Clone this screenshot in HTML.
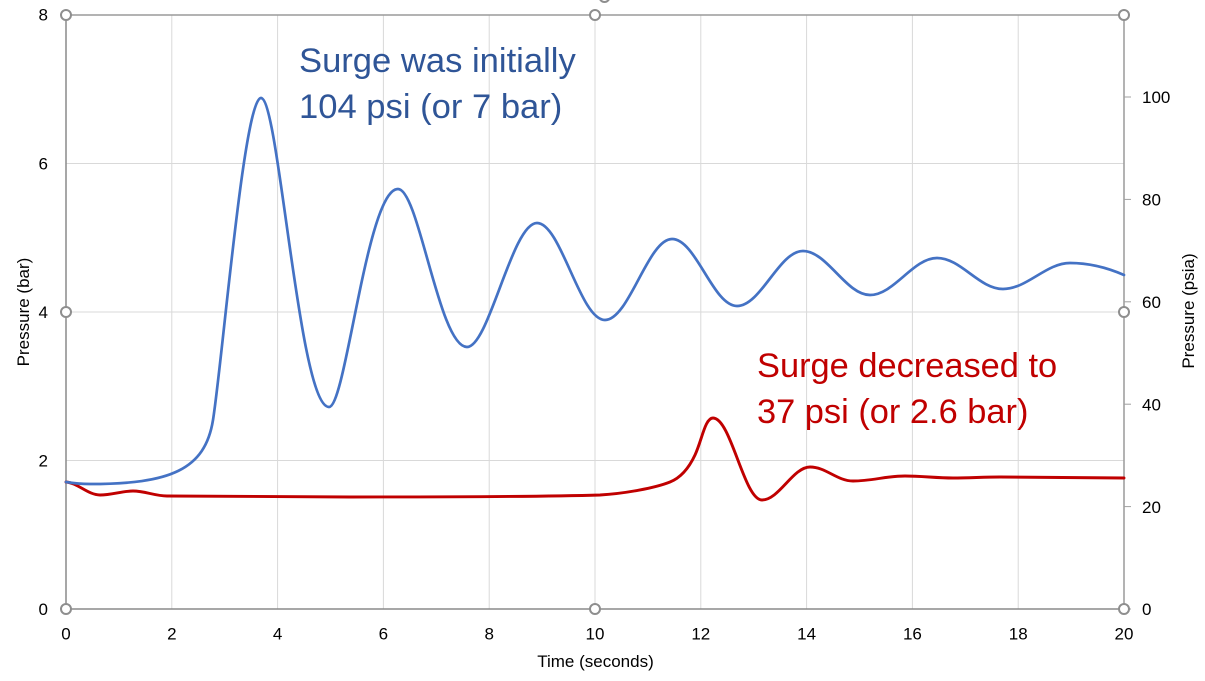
<!DOCTYPE html>
<html>
<head>
<meta charset="utf-8">
<style>
html,body{margin:0;padding:0;background:#fff;}
svg{display:block;}
text{font-family:"Liberation Sans",Arial,sans-serif;}
</style>
</head>
<body>
<svg width="1205" height="681" viewBox="0 0 1205 681" xmlns="http://www.w3.org/2000/svg">
<rect x="0" y="0" width="1205" height="681" fill="#fff"/>
<!-- gridlines -->
<g stroke="#d9d9d9" stroke-width="1">
<line x1="171.8" y1="15" x2="171.8" y2="609"/>
<line x1="277.6" y1="15" x2="277.6" y2="609"/>
<line x1="383.4" y1="15" x2="383.4" y2="609"/>
<line x1="489.2" y1="15" x2="489.2" y2="609"/>
<line x1="595" y1="15" x2="595" y2="609"/>
<line x1="700.8" y1="15" x2="700.8" y2="609"/>
<line x1="806.6" y1="15" x2="806.6" y2="609"/>
<line x1="912.4" y1="15" x2="912.4" y2="609"/>
<line x1="1018.2" y1="15" x2="1018.2" y2="609"/>
<line x1="66" y1="163.5" x2="1124" y2="163.5"/>
<line x1="66" y1="312" x2="1124" y2="312"/>
<line x1="66" y1="460.5" x2="1124" y2="460.5"/>
</g>
<!-- axes / frame -->
<g stroke="#9a9a9a" stroke-width="1.5" fill="none">
<line x1="66" y1="15" x2="1124" y2="15"/>
<line x1="1124" y1="15" x2="1124" y2="609"/>
</g>
<g stroke="#8a8a8a" stroke-width="1.5">
<line x1="66" y1="15" x2="66" y2="609"/>
<line x1="66" y1="609" x2="1124" y2="609"/>
</g>
<!-- right axis ticks -->
<g stroke="#a0a0a0" stroke-width="1">
<line x1="1124" y1="609" x2="1131" y2="609"/>
<line x1="1124" y1="506.6" x2="1131" y2="506.6"/>
<line x1="1124" y1="404.2" x2="1131" y2="404.2"/>
<line x1="1124" y1="301.8" x2="1131" y2="301.8"/>
<line x1="1124" y1="199.4" x2="1131" y2="199.4"/>
<line x1="1124" y1="97" x2="1131" y2="97"/>
</g>

<!-- series -->
<path fill="none" stroke="#c00000" stroke-width="2.9" stroke-linejoin="round" stroke-linecap="round"
d="M66,482 C78,483 88,495 100,495 C112,495 122,491 133,491 C145,491 155,496 167,496 C250,496 300,497 350,497 C450,497 550,496.5 600,495 C625,493.5 655,488 670,482 C680,478 688,470 695,455 C702,440 705,418 713,418 C731,418 744,500 762,500 C779,500 793,467 810,467 C826,467 837,481 853,481 C872,481 886,476 905,476 C922,476 936,478 953,478 C970,478 983,477 1000,477 C1040,477 1080,478 1124,478"/>
<path fill="none" stroke="#4472c4" stroke-width="2.7" stroke-linejoin="round" stroke-linecap="round"
d="M66,482 C75,483.5 80,484 90,484 C170,484 205,470 213,420 C222.6,360 244,98 261,98 C279,98 299,407 329,407 C346,407 367,189 398,189 C419,189 439,347 467,347 C489,347 512,223 537,223 C561,223 580,320 605,320 C629,320 648,239 672,239 C696,239 713,306 737,306 C761,306 779,251 803,251 C827,251 846,295 870,295 C894,295 913,258 937,258 C961,258 979,289 1003,289 C1027,289 1046,263 1070,263 C1090,263 1108,268 1124,275"/>

<!-- handles -->
<g fill="#fff" stroke="#8e8e8e" stroke-width="2">
<circle cx="66" cy="15" r="5"/>
<circle cx="595" cy="15" r="5"/>
<circle cx="1124" cy="15" r="5"/>
<circle cx="66" cy="312" r="5"/>
<circle cx="1124" cy="312" r="5"/>
<circle cx="66" cy="609" r="5"/>
<circle cx="595" cy="609" r="5"/>
<circle cx="1124" cy="609" r="5"/>
<circle cx="604.5" cy="-3" r="5"/>
</g>

<!-- left tick labels -->
<g font-size="17" fill="#000" text-anchor="end">
<text x="48" y="20.5">8</text>
<text x="48" y="169.5">6</text>
<text x="48" y="318">4</text>
<text x="48" y="466.5">2</text>
<text x="48" y="615">0</text>
</g>
<!-- right tick labels -->
<g font-size="17" fill="#000" text-anchor="start">
<text x="1142" y="103">100</text>
<text x="1142" y="205.5">80</text>
<text x="1142" y="308">60</text>
<text x="1142" y="410.5">40</text>
<text x="1142" y="513">20</text>
<text x="1142" y="615">0</text>
</g>
<!-- x tick labels -->
<g font-size="17" fill="#000" text-anchor="middle">
<text x="66" y="639.5">0</text>
<text x="171.8" y="639.5">2</text>
<text x="277.6" y="639.5">4</text>
<text x="383.4" y="639.5">6</text>
<text x="489.2" y="639.5">8</text>
<text x="595" y="639.5">10</text>
<text x="700.8" y="639.5">12</text>
<text x="806.6" y="639.5">14</text>
<text x="912.4" y="639.5">16</text>
<text x="1018.2" y="639.5">18</text>
<text x="1124" y="639.5">20</text>
</g>
<!-- axis titles -->
<text x="595.5" y="667" font-size="17" text-anchor="middle" fill="#000">Time (seconds)</text>
<text x="0" y="0" font-size="17" text-anchor="middle" fill="#000" transform="translate(29,312) rotate(-90)">Pressure (bar)</text>
<text x="0" y="0" font-size="17" text-anchor="middle" fill="#000" transform="translate(1194,311) rotate(-90)">Pressure (psia)</text>

<!-- annotations -->
<g font-size="34.6" fill="#2f5597">
<text x="299" y="72">Surge was initially</text>
<text x="299" y="118">104 psi (or 7 bar)</text>
</g>
<g font-size="34.4" fill="#c00000">
<text x="757" y="377">Surge decreased to</text>
<text x="757" y="423">37 psi (or 2.6 bar)</text>
</g>
</svg>
</body>
</html>
